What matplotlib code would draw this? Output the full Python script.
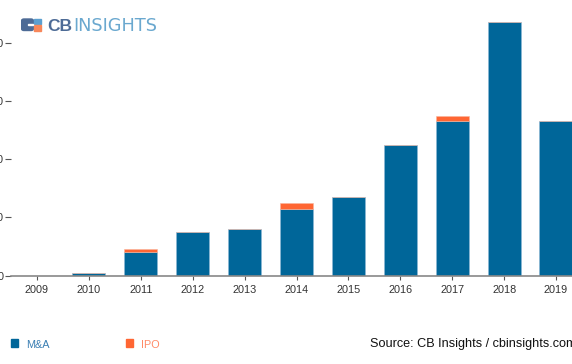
import matplotlib
matplotlib.use("Agg")
import matplotlib.pyplot as plt
from matplotlib.patches import Rectangle, FancyBboxPatch

plt.rcParams['font.family'] = ['Liberation Sans', 'DejaVu Sans']

years = ["2009", "2010", "2011", "2012", "2013", "2014", "2015", "2016", "2017", "2018", "2019"]
ma = [0, 1, 8, 15, 16, 23, 27, 45, 53, 87, 53]
ipo = [0, 0, 1, 0, 0, 2, 0, 0, 2, 0, 0]
yticks = [0, 20, 40, 60, 80]

BLUE = "#006699"
ORANGE = "#ff6633"

W, H = 572, 364
fig = plt.figure(figsize=(W / 100, H / 100), dpi=100)

# axes geometry in pixels
x_left, x_right = 11, 582
y_base = 275.7
px_per_unit = 58.25 / 20
ytop_val = 90
ax = fig.add_axes([x_left / W, (H - y_base) / H, (x_right - x_left) / W,
                   ytop_val * px_per_unit / H])

x = list(range(len(years)))
ax.bar(x, ma, width=0.64, color=BLUE, edgecolor="#8fb8d6", linewidth=0.4, zorder=2)
ax.bar(x, ipo, width=0.64, bottom=ma, color=ORANGE, edgecolor="#f8b59c", linewidth=0.4, zorder=2)

ax.set_xlim(-0.5, len(years) - 0.5)
ax.set_ylim(0, ytop_val)
ax.set_xticks(x)
ax.set_xticklabels(years)
ax.set_yticks(yticks)
ax.set_yticklabels([str(v) for v in yticks])

for s in ["top", "right", "left"]:
    ax.spines[s].set_visible(False)
ax.spines["bottom"].set_color("#888888")
ax.spines["bottom"].set_linewidth(1.2)
ax.tick_params(axis="x", length=3, width=0.8, color="#555555", labelsize=7.8,
               labelcolor="#333333", pad=4)
ax.tick_params(axis="y", length=4, width=0.8, color="#555555", labelsize=7.8,
               labelcolor="#333333", pad=1.2)
ax.set_facecolor("none")

# Legend
def fx(px):
    return px / W

def fy(py):
    return (H - py) / H

fig.patches.append(Rectangle((fx(11), fy(346.7)), 7 / W, 7.3 / H, transform=fig.transFigure,
                             color=BLUE, zorder=5))
fig.text(fx(26.5), fy(344.5), "M&A", color="#3a7fb3", fontsize=7.8, va="center", ha="left")
fig.patches.append(Rectangle((fx(126), fy(346.7)), 7.3 / W, 7.3 / H, transform=fig.transFigure,
                             color=ORANGE, zorder=5))
fig.text(fx(141.3), fy(344.5), "IPO", color="#ff8a66", fontsize=7.8, va="center", ha="left")
fig.text(fx(370), fy(344.5), "Source: CB Insights / cbinsights.com", color="#111111",
         fontsize=9.1, va="center", ha="left")

# Logo
fig.patches.append(FancyBboxPatch((fx(21.7), fy(30.5)), (33.3 - 21.7) / W, 11.5 / H,
                                  boxstyle="round,pad=0,rounding_size=0.004",
                                  transform=fig.transFigure, color="#4d6b96", zorder=5))
fig.patches.append(Rectangle((fx(28), fy(25.3)), 5.3 / W, 1.6 / H, transform=fig.transFigure,
                             color="white", zorder=6))
fig.patches.append(Rectangle((fx(34.3), fy(24.3)), 6.7 / W, 5.3 / H, transform=fig.transFigure,
                             color="#5b9fd0", zorder=5))
fig.patches.append(Rectangle((fx(34.3), fy(30.5)), 6.7 / W, 5.3 / H, transform=fig.transFigure,
                             color="#f7875a", zorder=5))
fig.text(fx(47.5), fy(31), "CB", color="#4d6b96", fontsize=12.5, fontweight="bold",
         va="baseline", ha="left")
fig.text(fx(73.0), fy(31), "INSIGHTS", color="#6aa8cf", fontsize=12.8,
         family=["DejaVu Sans"], va="baseline", ha="left")

fig.savefig("out.png", dpi=100)
